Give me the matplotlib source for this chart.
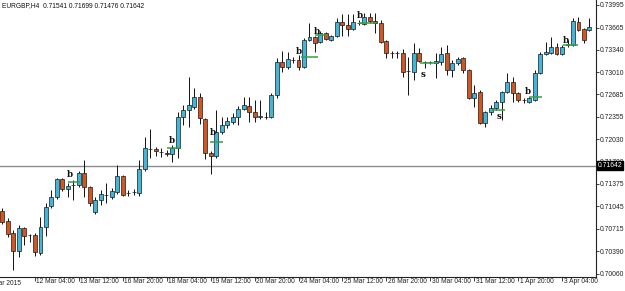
import matplotlib
matplotlib.use("Agg")
import matplotlib.pyplot as plt
import matplotlib.transforms as mtransforms
import numpy as np

symbol = "EURGBP,H4"
last_ohlc = ["0.71541", "0.71699", "0.71476", "0.71642"]
bid = 0.71642

# H4 bars, index 0 = 12 Mar 04:00
first_bar = -6
opens = [0.70978, 0.70832, 0.70656, 0.70393, 0.70729, 0.70627,
         0.70627, 0.70363, 0.70744, 0.71052, 0.71183, 0.71447, 0.71300, 0.71359, 0.71359, 0.71535,
         0.71330, 0.70964, 0.71139, 0.71213, 0.71183, 0.71256, 0.71491, 0.71242, 0.71256, 0.71242,
         0.71593, 0.71886, 0.71879, 0.71842, 0.71835, 0.71813, 0.71901, 0.72355, 0.72457, 0.72501,
         0.72648, 0.72326, 0.71828, 0.71784, 0.72135, 0.72238, 0.72282, 0.72355, 0.72472, 0.72516,
         0.72428, 0.72362, 0.72355, 0.72355, 0.72677, 0.73160, 0.73087, 0.73189, 0.73189, 0.73087,
         0.73482, 0.73526, 0.73453, 0.73585, 0.73482, 0.73541, 0.73746, 0.73702, 0.73643, 0.73731,
         0.73717, 0.73819, 0.73761, 0.73731, 0.73468, 0.73292, 0.73292, 0.73292, 0.73028, 0.73014,
         0.73292, 0.73160, 0.73160, 0.73146, 0.73160, 0.73292, 0.73043, 0.73146, 0.73219, 0.73043,
         0.72633, 0.72721, 0.72267, 0.72428, 0.72487, 0.72574, 0.72721, 0.72867, 0.72706, 0.72604,
         0.72574, 0.72604, 0.72999, 0.73277, 0.73292, 0.73380, 0.73277, 0.73409, 0.73409, 0.73746,
         0.73643, 0.73629]
highs = [0.71022, 0.70876, 0.70700, 0.70773, 0.70744, 0.70642,
         0.70656, 0.70890, 0.71095, 0.71286, 0.71462, 0.71462, 0.71388, 0.71432, 0.71564, 0.71725,
         0.71344, 0.71183, 0.71286, 0.71388, 0.71315, 0.71652, 0.71505, 0.71286, 0.71300, 0.71725,
         0.72062, 0.72179, 0.71915, 0.71901, 0.71872, 0.71945, 0.72428, 0.72531, 0.72941, 0.72779,
         0.72706, 0.72340, 0.71857, 0.72457, 0.72355, 0.72355, 0.72413, 0.72516, 0.72648, 0.72648,
         0.72604, 0.72604, 0.72428, 0.72706, 0.73219, 0.73321, 0.73307, 0.73233, 0.73263, 0.73512,
         0.73731, 0.73541, 0.73614, 0.73599, 0.73556, 0.73804, 0.73863, 0.73863, 0.73863, 0.73775,
         0.73878, 0.73878, 0.73878, 0.73775, 0.73482, 0.73321, 0.73321, 0.73351, 0.73233, 0.73438,
         0.73365, 0.73175, 0.73175, 0.73292, 0.73380, 0.73409, 0.73189, 0.73233, 0.73233, 0.73058,
         0.72823, 0.72750, 0.72443, 0.72531, 0.72604, 0.72735, 0.72999, 0.72941, 0.72721, 0.72633,
         0.72648, 0.73043, 0.73307, 0.73453, 0.73526, 0.73438, 0.73409, 0.73482, 0.73804, 0.73819,
         0.73658, 0.73804]
lows = [0.70788, 0.70598, 0.70114, 0.70305, 0.70481, 0.70524,
        0.70319, 0.70334, 0.70612, 0.71022, 0.71154, 0.71271, 0.71183, 0.71139, 0.71330, 0.71183,
        0.71052, 0.70934, 0.71066, 0.71095, 0.71154, 0.71227, 0.71198, 0.71198, 0.71213, 0.71198,
        0.71564, 0.71754, 0.71784, 0.71769, 0.71784, 0.71696, 0.71754, 0.72238, 0.72208, 0.72472,
        0.72252, 0.71740, 0.71520, 0.71754, 0.72106, 0.72194, 0.72252, 0.72238, 0.72457, 0.72282,
        0.72282, 0.72326, 0.72326, 0.72340, 0.72633, 0.73014, 0.73058, 0.73146, 0.73043, 0.73072,
        0.73468, 0.73307, 0.73438, 0.73482, 0.73468, 0.73526, 0.73541, 0.73541, 0.73629, 0.73702,
        0.73702, 0.73731, 0.73585, 0.73438, 0.73219, 0.73219, 0.73219, 0.72941, 0.72677, 0.72897,
        0.73160, 0.73072, 0.73131, 0.72926, 0.73116, 0.72970, 0.72941, 0.73116, 0.72999, 0.72618,
        0.72501, 0.72252, 0.72208, 0.72384, 0.72457, 0.72311, 0.72706, 0.72574, 0.72574, 0.72560,
        0.72560, 0.72589, 0.72984, 0.73263, 0.73277, 0.73263, 0.73263, 0.73380, 0.73394, 0.73614,
        0.73438, 0.73614]
closes = [0.70817, 0.70642, 0.70393, 0.70729, 0.70612, 0.70620,
          0.70378, 0.70744, 0.71037, 0.71183, 0.71447, 0.71300, 0.71344, 0.71355, 0.71535, 0.71330,
          0.71095, 0.71139, 0.71227, 0.71220, 0.71271, 0.71491, 0.71213, 0.71240, 0.71258, 0.71593,
          0.71901, 0.71888, 0.71864, 0.71845, 0.71820, 0.71901, 0.72355, 0.72457, 0.72531, 0.72648,
          0.72340, 0.71828, 0.71784, 0.72135, 0.72238, 0.72296, 0.72355, 0.72472, 0.72531, 0.72428,
          0.72355, 0.72365, 0.72358, 0.72677, 0.73160, 0.73087, 0.73204, 0.73192, 0.73087, 0.73482,
          0.73526, 0.73438, 0.73585, 0.73497, 0.73541, 0.73746, 0.73702, 0.73643, 0.73746, 0.73734,
          0.73819, 0.73761, 0.73731, 0.73453, 0.73292, 0.73289, 0.73295, 0.73014, 0.73025, 0.73292,
          0.73175, 0.73157, 0.73163, 0.73175, 0.73277, 0.73043, 0.73146, 0.73204, 0.73043, 0.72633,
          0.72706, 0.72267, 0.72428, 0.72487, 0.72574, 0.72721, 0.72867, 0.72706, 0.72604, 0.72600,
          0.72633, 0.72999, 0.73277, 0.73307, 0.73380, 0.73277, 0.73380, 0.73424, 0.73761, 0.73629,
          0.73482, 0.73673]

xtick_bars = [0, 8, 16, 24, 32, 40, 48, 56, 64, 72, 80, 88, 96]
xtick_labels = ["12 Mar 04:00", "13 Mar 12:00", "16 Mar 20:00", "18 Mar 04:00",
                "19 Mar 12:00", "20 Mar 20:00", "24 Mar 04:00", "25 Mar 12:00",
                "26 Mar 20:00", "30 Mar 04:00", "31 Mar 12:00", "1 Apr 20:00", "3 Apr 04:00"]
first_date_label = "10 Mar 2015"
ytick_values = [0.70060, 0.70390, 0.70715, 0.71045, 0.71375, 0.71700, 0.72030,
                0.72355, 0.72685, 0.73010, 0.73340, 0.73665, 0.73995]

# signal marks ("b" buy / "s" sell) with their green level lines
signal_text = ["b", "b", "b", "b", "b", "b", "s", "s", "b", "b"]
signal_text_bar = [6.35, 24.9, 32.4, 48.1, 51.35, 59.2, 70.7, 84.5, 89.8, 96.7]
signal_text_price = [0.71520, 0.72018, 0.72121, 0.73321, 0.73614, 0.73848,
                     0.72984, 0.72355, 0.72721, 0.73468]
signal_level = [0.71407, 0.71901, 0.71989, 0.73233, 0.73556, 0.73731,
                0.73146, 0.72457, 0.72648, 0.73409]
signal_line_from = [6.0, 24.0, 31.9, 48.4, 51.0, 59.0, 70.1, 83.3, 90.0, 96.2]
signal_line_to = [8.2, 26.4, 34.2, 51.6, 53.1, 62.2, 73.2, 85.7, 92.3, 99.0]

bull_color = "#3fb6da"
bear_color = "#d3561f"

W, H = 625, 291
fig = plt.figure(figsize=(W / 100, H / 100), dpi=100)
ax = fig.add_axes([0, 1 - 277 / H, 595.5 / W, 277 / H])

o = np.array(opens)
h = np.array(highs)
l = np.array(lows)
c = np.array(closes)
x = np.arange(first_bar, first_bar + len(o))

ax.vlines(x, l, h, color="#111111", lw=0.7, zorder=2)
bottoms = np.minimum(o, c)
heights = np.maximum(np.abs(c - o), 0.000005)
cols = [bull_color if cc > oo else bear_color for oo, cc in zip(o, c)]
ax.bar(x, heights, bottom=bottoms, width=0.72, color=cols,
       edgecolor="#1a1a1a", linewidth=0.5, zorder=3)

# current bid line
ax.axhline(bid, color="#8c8c8c", lw=1.0, zorder=1)

for t, tb, tp, lv, a, b in zip(signal_text, signal_text_bar, signal_text_price,
                               signal_level, signal_line_from, signal_line_to):
    ax.hlines(lv, a, b, color="#35a043", lw=1.1, zorder=4)
    ax.text(tb, tp, t, fontsize=6.2, fontweight="bold", family="DejaVu Serif",
            ha="center", va="center", color="#111111", zorder=5)

ax.set_xlim(-6.375, 102.1)
ax.set_ylim(0.70012, 0.74068)

for s in ["left", "top"]:
    ax.spines[s].set_visible(False)
for s in ["right", "bottom"]:
    ax.spines[s].set_color("#222222")
    ax.spines[s].set_linewidth(0.8)

ax.yaxis.tick_right()
ax.set_yticks(ytick_values)
ax.set_yticklabels([f"{v:.5f}" for v in ytick_values])
ax.tick_params(axis="y", length=2.2, width=0.6, pad=1.0, labelsize=4.9,
               colors="#222222")
ax.set_xticks(xtick_bars)
ax.set_xticklabels(xtick_labels, ha="left")
ax.tick_params(axis="x", length=3, width=0.6, pad=-2.5, labelsize=4.8,
               colors="#222222")
offset = mtransforms.ScaledTranslation(1.5 / 100, 0, fig.dpi_scale_trans)
for lab in ax.get_xticklabels():
    lab.set_transform(lab.get_transform() + offset)
    lab.set_family("Liberation Sans")
for lab in ax.get_yticklabels():
    lab.set_family("Liberation Sans")

fig.text(21 / W, 1 - 283.5 / H, first_date_label, ha="right", va="center",
         fontsize=4.8, family="Liberation Sans", color="#222222")

fig.text(2 / W, 1 - 5.5 / H, symbol + "  " + " ".join(last_ohlc), ha="left",
         va="center", fontsize=4.8, family="Liberation Sans", color="#111111")

ax.annotate(f"{bid:.5f}", xy=(1, bid), xycoords=("axes fraction", "data"),
            xytext=(1.8, 0), textcoords="offset points", ha="left", va="center",
            fontsize=4.9, family="Liberation Sans", color="white", zorder=10,
            annotation_clip=False,
            bbox=dict(boxstyle="square,pad=0.12", fc="black", ec="black"))

fig.savefig("out.png", dpi=100, facecolor="white")
